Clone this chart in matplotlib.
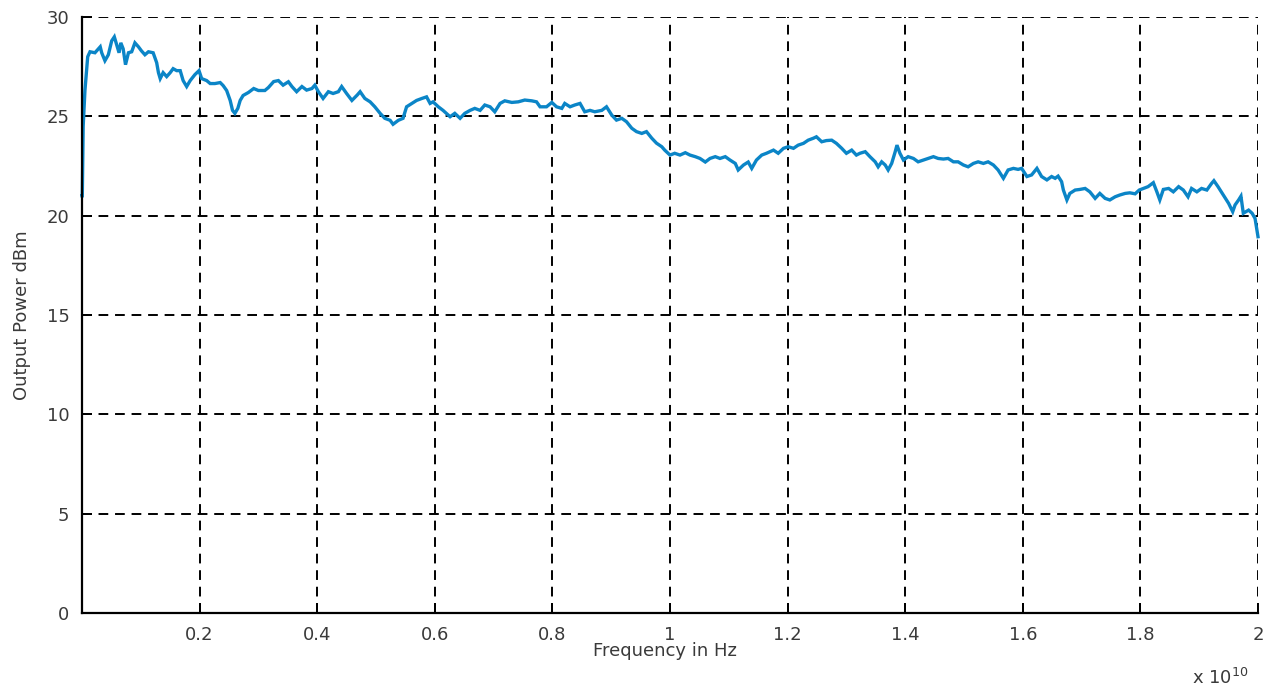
"""Output power vs. frequency sweep, MATLAB-style line plot."""

import matplotlib

matplotlib.use("Agg")
import matplotlib.pyplot as plt
import numpy as np

# ---------------------------------------------------------------------------
# Data (frequency in units of 1e10 Hz, power in dBm)
# ---------------------------------------------------------------------------
freq_e10 = [
    0.0, 0.0005, 0.002, 0.005, 0.0097, 0.0136, 0.022, 0.031, 0.0335, 0.039,
    0.0448, 0.0505, 0.055, 0.059, 0.063, 0.066, 0.070, 0.074, 0.079, 0.0845,
    0.090, 0.096, 0.101, 0.107, 0.113, 0.121, 0.127, 0.130, 0.133, 0.138,
    0.144, 0.150, 0.155, 0.161, 0.167, 0.172, 0.178, 0.184, 0.192, 0.199,
    0.2035, 0.212, 0.218, 0.226, 0.235, 0.240, 0.246, 0.252, 0.256, 0.260,
    0.265, 0.269, 0.274, 0.283, 0.292, 0.300, 0.311, 0.317, 0.326, 0.334,
    0.342, 0.351, 0.357, 0.365, 0.374, 0.382, 0.391, 0.396, 0.402, 0.410,
    0.419, 0.427, 0.436, 0.4416, 0.450, 0.459, 0.468, 0.473, 0.481, 0.490,
    0.498, 0.507, 0.515, 0.524, 0.529, 0.538, 0.546, 0.552, 0.561, 0.569,
    0.578, 0.586, 0.592, 0.597, 0.606, 0.614, 0.626, 0.634, 0.643, 0.651,
    0.660, 0.668, 0.677, 0.685, 0.694, 0.702, 0.711, 0.719, 0.731, 0.742,
    0.753, 0.765, 0.773, 0.779, 0.790, 0.799, 0.807, 0.816, 0.821, 0.830,
    0.838, 0.847, 0.855, 0.864, 0.872, 0.884, 0.892, 0.901, 0.909, 0.918,
    0.926, 0.935, 0.943, 0.952, 0.960, 0.969, 0.977, 0.986, 0.991, 1.0,
    1.008, 1.017, 1.026, 1.034, 1.043, 1.051, 1.060, 1.068, 1.077, 1.085,
    1.094, 1.102, 1.111, 1.116, 1.125, 1.133, 1.139, 1.147, 1.156, 1.164,
    1.176, 1.184, 1.193, 1.201, 1.210, 1.218, 1.227, 1.235, 1.244, 1.249,
    1.258, 1.266, 1.275, 1.283, 1.292, 1.300, 1.309, 1.317, 1.323, 1.332,
    1.340, 1.349, 1.354, 1.360, 1.366, 1.371, 1.377, 1.383, 1.386, 1.391,
    1.397, 1.405, 1.414, 1.422, 1.431, 1.439, 1.448, 1.456, 1.465, 1.473,
    1.482, 1.490, 1.499, 1.507, 1.516, 1.524, 1.533, 1.541, 1.550, 1.558,
    1.567, 1.575, 1.584, 1.592, 1.598, 1.607, 1.615, 1.624, 1.632, 1.641,
    1.649, 1.655, 1.660, 1.666, 1.669, 1.675, 1.680, 1.689, 1.697, 1.706,
    1.714, 1.723, 1.731, 1.740, 1.748, 1.757, 1.765, 1.774, 1.782, 1.791,
    1.798, 1.805, 1.813, 1.822, 1.828, 1.833, 1.839, 1.848, 1.856, 1.865,
    1.873, 1.881, 1.887, 1.896, 1.904, 1.913, 1.921, 1.925, 1.932, 1.941,
    1.950, 1.957, 1.961, 1.967, 1.971, 1.975, 1.984, 1.990, 1.995, 2.0,
]
power_dbm = [
    21.0, 21.0, 24.5, 26.3, 28.0, 28.25, 28.2, 28.5, 28.2, 27.8,
    28.1, 28.8, 29.0, 28.6, 28.2, 28.7, 28.4, 27.6, 28.2, 28.25,
    28.7, 28.5, 28.3, 28.1, 28.25, 28.2, 27.7, 27.2, 26.9, 27.2,
    27.0, 27.2, 27.4, 27.3, 27.3, 26.8, 26.5, 26.8, 27.1, 27.3,
    26.9, 26.8, 26.65, 26.65, 26.7, 26.55, 26.3, 25.8, 25.3, 25.15,
    25.4, 25.8, 26.05, 26.2, 26.4, 26.3, 26.3, 26.45, 26.75, 26.8,
    26.57, 26.74, 26.5, 26.24, 26.5, 26.32, 26.4, 26.57, 26.24, 25.9,
    26.24, 26.15, 26.24, 26.5, 26.15, 25.8, 26.07, 26.24, 25.9, 25.73,
    25.48, 25.15, 24.9, 24.8, 24.6, 24.8, 24.9, 25.48, 25.65, 25.8,
    25.9, 25.98, 25.65, 25.73, 25.48, 25.3, 24.98, 25.15, 24.9, 25.15,
    25.3, 25.4, 25.3, 25.57, 25.48, 25.23, 25.65, 25.78, 25.7, 25.73,
    25.82, 25.78, 25.73, 25.48, 25.48, 25.7, 25.48, 25.4, 25.65, 25.48,
    25.57, 25.65, 25.23, 25.3, 25.23, 25.3, 25.48, 25.06, 24.81, 24.9,
    24.73, 24.4, 24.23, 24.14, 24.23, 23.9, 23.65, 23.47, 23.3, 23.05,
    23.14, 23.05, 23.17, 23.05, 22.97, 22.88, 22.7, 22.88, 22.97, 22.88,
    22.97, 22.8, 22.63, 22.3, 22.55, 22.7, 22.38, 22.8, 23.05, 23.14,
    23.3, 23.14, 23.39, 23.47, 23.39, 23.55, 23.64, 23.8, 23.9, 23.97,
    23.72, 23.78, 23.8, 23.64, 23.39, 23.14, 23.3, 23.05, 23.14, 23.22,
    22.97, 22.71, 22.46, 22.71, 22.55, 22.3, 22.63, 23.22, 23.55, 23.14,
    22.8, 22.97, 22.88, 22.71, 22.8, 22.88, 22.97, 22.88, 22.85, 22.88,
    22.71, 22.71, 22.55, 22.46, 22.63, 22.71, 22.63, 22.71, 22.55, 22.3,
    21.88, 22.3, 22.38, 22.33, 22.38, 21.97, 22.05, 22.38, 21.97, 21.8,
    21.97, 21.88, 21.99, 21.71, 21.29, 20.79, 21.12, 21.29, 21.32, 21.37,
    21.2, 20.87, 21.12, 20.87, 20.79, 20.95, 21.04, 21.12, 21.15, 21.1,
    21.29, 21.37, 21.46, 21.66, 21.2, 20.79, 21.32, 21.37, 21.2, 21.46,
    21.29, 20.95, 21.37, 21.2, 21.37, 21.29, 21.62, 21.76, 21.46, 21.04,
    20.62, 20.2, 20.54, 20.79, 20.98, 20.12, 20.28, 20.12, 19.86, 18.94,
]

x_ticks_e10 = [0.2, 0.4, 0.6, 0.8, 1.0, 1.2, 1.4, 1.6, 1.8, 2.0]
y_ticks = [0, 5, 10, 15, 20, 25, 30]

LINE_COLOR = "#0b85c7"
TEXT_COLOR = "#3a3a3a"

plt.rcParams.update(
    {
        "font.family": ["DejaVu Sans"],
        "font.size": 13,
        "figure.facecolor": "white",
        "axes.facecolor": "white",
    }
)

fig = plt.figure(figsize=(12.74, 6.92), dpi=100)
ax = fig.add_axes([82 / 1274, 1 - 613 / 692, (1258 - 82) / 1274, (613 - 17) / 692])

freq_hz = np.asarray(freq_e10) * 1e10
ax.plot(freq_hz, power_dbm, color=LINE_COLOR, linewidth=2.4, zorder=3,
        solid_joinstyle="miter", clip_on=False)

ax.set_xlim(0, 2e10)
ax.set_ylim(0, 30)
ax.set_xticks([t * 1e10 for t in x_ticks_e10])
ax.set_xticklabels([f"{t:g}" for t in x_ticks_e10])
ax.set_yticks(y_ticks)

# MATLAB-ish look: box off, dashed black grid, inward ticks
ax.spines["top"].set_visible(False)
ax.spines["right"].set_visible(False)
for side in ("left", "bottom"):
    ax.spines[side].set_linewidth(1.6)
    ax.spines[side].set_color("black")
    ax.spines[side].set_zorder(4)
ax.grid(True, color="black", linestyle=(0, (5, 3.5)), linewidth=1.4, zorder=0)
ax.set_axisbelow(True)
ax.tick_params(direction="in", length=7, width=1.4, colors="black",
               labelcolor=TEXT_COLOR, labelsize=13, pad=9)

fig.text(665 / 1274, 1 - 651 / 692, "Frequency in Hz", ha="center", va="center",
         fontsize=13, color=TEXT_COLOR)
fig.text(22 / 1274, 1 - 315 / 692, "Output Power dBm", ha="center", va="center",
         rotation=90, fontsize=13, color=TEXT_COLOR)
fig.text(1220 / 1274, 1 - 678 / 692, r"x 10$^{10}$", ha="center", va="center",
         fontsize=13, color=TEXT_COLOR)

fig.savefig("out.png", dpi=100)
plt.close(fig)
